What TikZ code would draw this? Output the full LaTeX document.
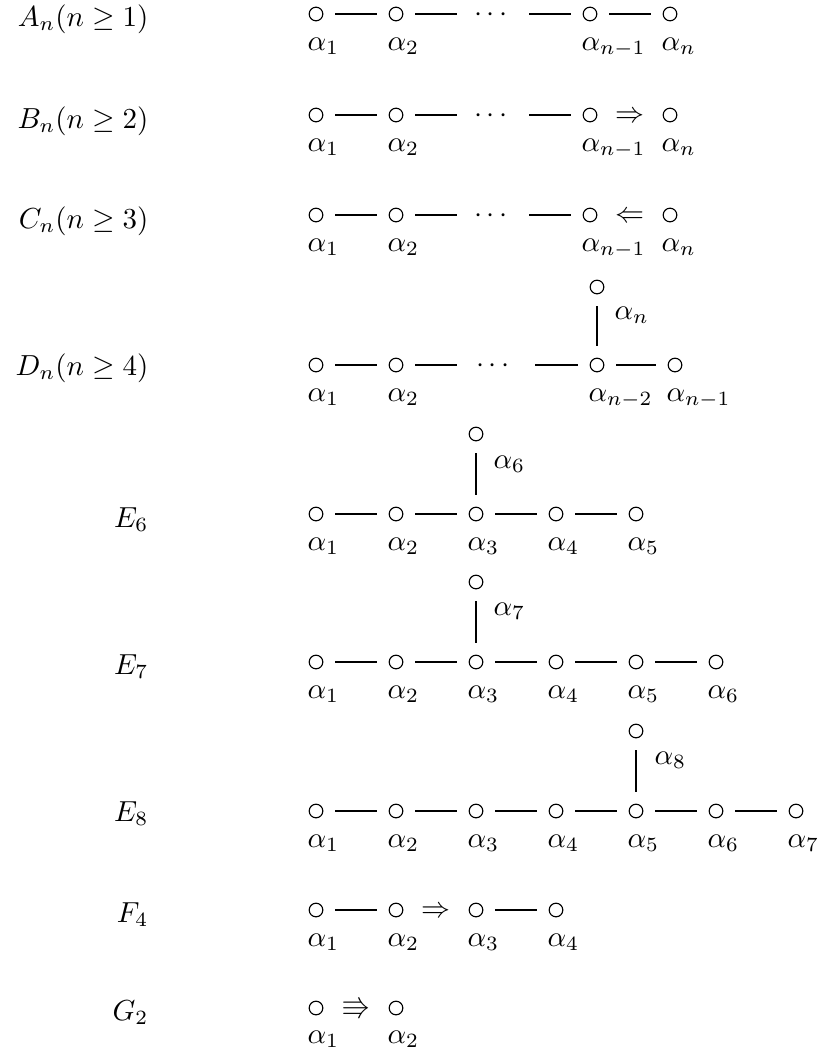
\documentclass[tikz,border=0pt]{standalone}
\usepackage{amssymb}
\begin{document}
\begin{tikzpicture}[x=0.345pt,y=-0.345pt,
  vtx/.style={circle,draw,line width=0.4pt,minimum size=4.7pt,inner sep=0pt},
  bond/.style={line width=0.4pt,shorten <=4.14pt,shorten >=4.14pt},
  lab/.style={anchor=base west,inner sep=0pt},
  rowlab/.style={anchor=base east,inner sep=0pt},
  sym/.style={anchor=base,inner sep=0pt}]
\useasboundingbox (0,0) rectangle (819,1048);

% ---------- A_n ----------
\node[rowlab] (An) at (149,26) {$A_n(n\geq 1)$};
\node[vtx] (a1) at (316,14) {};
\node[vtx] (a2) at (396,14) {};
\node[sym] (adots) at (491,21) {$\smash{\cdots}$};
\node[vtx] (a3) at (590,14) {};
\node[vtx] (a4) at (670,14) {};
\coordinate (a2r) at (469,14);
\coordinate (a3l) at (517,14);
\draw[bond] (a1) -- (a2);
\draw[bond] (a2) -- (a2r);
\draw[bond] (a3l) -- (a3);
\draw[bond] (a3) -- (a4);
\node[lab] (a1l) at (307,50) {$\alpha_1$};
\node[lab] (a2l) at (387,50) {$\alpha_2$};
\node[lab] (a3lab) at (581,50) {$\alpha_{n-1}$};
\node[lab] (a4l) at (661,50) {$\alpha_n$};

% ---------- B_n ----------
\node[rowlab] (Bn) at (149,128) {$B_n(n\geq 2)$};
\node[vtx] (b1) at (316,115) {};
\node[vtx] (b2) at (396,115) {};
\node[sym] (bdots) at (491,122) {$\smash{\cdots}$};
\node[vtx] (b3) at (590,115) {};
\node[vtx] (b4) at (670,115) {};
\coordinate (b2r) at (469,115);
\coordinate (b3l) at (517,115);
\draw[bond] (b1) -- (b2);
\draw[bond] (b2) -- (b2r);
\draw[bond] (b3l) -- (b3);
\node[sym] (barr) at (630,122) {$\Rightarrow$};
\node[lab] (b1l) at (307,151) {$\alpha_1$};
\node[lab] (b2l) at (387,151) {$\alpha_2$};
\node[lab] (b3lab) at (581,151) {$\alpha_{n-1}$};
\node[lab] (b4l) at (661,151) {$\alpha_n$};

% ---------- C_n ----------
\node[rowlab] (Cn) at (149,228) {$C_n(n\geq 3)$};
\node[vtx] (c1) at (316,215) {};
\node[vtx] (c2) at (396,215) {};
\node[sym] (cdots) at (491,222) {$\smash{\cdots}$};
\node[vtx] (c3) at (590,215) {};
\node[vtx] (c4) at (670,215) {};
\coordinate (c2r) at (469,215);
\coordinate (c3l) at (517,215);
\draw[bond] (c1) -- (c2);
\draw[bond] (c2) -- (c2r);
\draw[bond] (c3l) -- (c3);
\node[sym] (carr) at (630,222) {$\Leftarrow$};
\node[lab] (c1l) at (307,251) {$\alpha_1$};
\node[lab] (c2l) at (387,251) {$\alpha_2$};
\node[lab] (c3lab) at (581,251) {$\alpha_{n-1}$};
\node[lab] (c4l) at (661,251) {$\alpha_n$};

% ---------- D_n ----------
\node[rowlab] (Dn) at (149,375) {$D_n(n\geq 4)$};
\node[vtx] (d1) at (316,365) {};
\node[vtx] (d2) at (396,365) {};
\node[sym] (ddots) at (493,372) {$\smash{\cdots}$};
\node[vtx] (d3) at (597,365) {};
\node[vtx] (d4) at (675,365) {};
\node[vtx] (dt) at (597,287) {};
\coordinate (d2r) at (469,365);
\coordinate (d3l) at (523,365);
\draw[bond] (d1) -- (d2);
\draw[bond] (d2) -- (d2r);
\draw[bond] (d3l) -- (d3);
\draw[bond] (d3) -- (d4);
\draw[bond] (dt) -- (d3);
\node[lab] (dtl) at (614,319) {$\alpha_n$};
\node[lab] (d1l) at (307,401) {$\alpha_1$};
\node[lab] (d2l) at (387,401) {$\alpha_2$};
\node[lab] (d3lab) at (588,401) {$\alpha_{n-2}$};
\node[lab] (d4l) at (666,401) {$\alpha_{n-1}$};

% ---------- E_6 ----------
\node[rowlab] (E6) at (149,527) {$E_6$};
\foreach \i/\x in {1/316,2/396,3/476,4/556,5/636}{
  \node[vtx] (e6-\i) at (\x,514) {};
  \node[lab] (e6l-\i) at (\x-9,550) {$\alpha_\i$};
}
\node[vtx] (e6-6) at (476,434) {};
\node[lab] (e6l-6) at (493,468) {$\alpha_6$};
\foreach \i/\j in {1/2,2/3,3/4,4/5}{\draw[bond] (e6-\i) -- (e6-\j);}
\draw[bond] (e6-6) -- (e6-3);

% ---------- E_7 ----------
\node[rowlab] (E7) at (149,674) {$E_7$};
\foreach \i/\x in {1/316,2/396,3/476,4/556,5/636,6/716}{
  \node[vtx] (e7-\i) at (\x,662) {};
  \node[lab] (e7l-\i) at (\x-9,698) {$\alpha_\i$};
}
\node[vtx] (e7-7) at (476,582) {};
\node[lab] (e7l-7) at (493,615) {$\alpha_7$};
\foreach \i/\j in {1/2,2/3,3/4,4/5,5/6}{\draw[bond] (e7-\i) -- (e7-\j);}
\draw[bond] (e7-7) -- (e7-3);

% ---------- E_8 ----------
\node[rowlab] (E8) at (149,821) {$E_8$};
\foreach \i/\x in {1/316,2/396,3/476,4/556,5/636,6/716,7/796}{
  \node[vtx] (e8-\i) at (\x,811) {};
  \node[lab] (e8l-\i) at (\x-9,847) {$\alpha_\i$};
}
\node[vtx] (e8-8) at (636,731) {};
\node[lab] (e8l-8) at (654,764) {$\alpha_8$};
\foreach \i/\j in {1/2,2/3,3/4,4/5,5/6,6/7}{\draw[bond] (e8-\i) -- (e8-\j);}
\draw[bond] (e8-8) -- (e8-5);

% ---------- F_4 ----------
\node[rowlab] (F4) at (149,922) {$F_4$};
\foreach \i/\x in {1/316,2/396,3/476,4/556}{
  \node[vtx] (f-\i) at (\x,910) {};
  \node[lab] (fl-\i) at (\x-9,946) {$\alpha_\i$};
}
\draw[bond] (f-1) -- (f-2);
\node[sym] (farr) at (436,917) {$\Rightarrow$};
\draw[bond] (f-3) -- (f-4);

% ---------- G_2 ----------
\node[rowlab] (G2) at (149,1020) {$G_2$};
\foreach \i/\x in {1/316,2/396}{
  \node[vtx] (g-\i) at (\x,1008) {};
  \node[lab] (gl-\i) at (\x-9,1043) {$\alpha_\i$};
}
\node[sym] (garr) at (356,1015) {$\Rrightarrow$};
\end{tikzpicture}
\end{document}
